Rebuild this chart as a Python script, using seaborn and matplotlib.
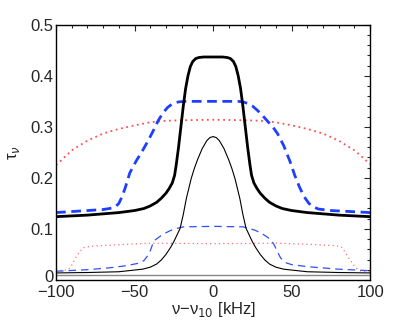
import numpy as np
import pandas as pd
import matplotlib
matplotlib.use("Agg")
import matplotlib.pyplot as plt
import matplotlib.transforms as mtransforms
import seaborn as sns
from matplotlib.ticker import MultipleLocator

sns.set_style("white")
plt.rcParams['font.family'] = ['Liberation Sans', 'DejaVu Sans']

# thick black solid (left half, mirrored)
x_bk_half = [-100, -80, -60, -50, -44, -40, -36, -33, -30, -28, -26, -24.5, -23.5, -22, -20.5, -19, -17.5, -16,
             -14.5, -13, -11, -9, -6, 0]
y_bk_half = [0.124, 0.127, 0.132, 0.136, 0.140, 0.145, 0.152, 0.160, 0.170, 0.179, 0.190, 0.205, 0.225, 0.260,
             0.300, 0.340, 0.375, 0.400, 0.418, 0.428, 0.434, 0.436, 0.437, 0.437]
x_bk = x_bk_half + [-v for v in x_bk_half[-2::-1]]
y_bk = y_bk_half + y_bk_half[-2::-1]

# thick blue dashed
x_bl = [-100, -85, -70, -64, -62, -60, -58, -56, -53, -49, -45, -41, -38, -35, -32, -29, -26, -22, -18, 0,
        16, 19, 22, 25, 28, 31, 35, 38, 41, 45, 49, 52, 55, 58, 61, 64, 67, 75, 100]
y_bl = [0.132, 0.135, 0.138, 0.141, 0.144, 0.150, 0.163, 0.180, 0.210, 0.233, 0.253, 0.275, 0.293, 0.312, 0.327,
        0.338, 0.345, 0.349, 0.350, 0.350, 0.350, 0.349, 0.346, 0.341, 0.333, 0.324, 0.310, 0.300, 0.287, 0.263,
        0.232, 0.205, 0.182, 0.163, 0.150, 0.143, 0.139, 0.136, 0.132]

# thick red dotted
x_rd = [-100, -90, -80, -70, -60, -50, -40, -30, -20, 0, 20, 30, 40, 50, 60, 70, 80, 90, 100]
y_rd = [0.225, 0.254, 0.273, 0.287, 0.296, 0.303, 0.309, 0.312, 0.313, 0.314, 0.313, 0.312, 0.309, 0.303, 0.296,
        0.287, 0.273, 0.254, 0.227]

# thin black solid (left half, mirrored)
x_bk2_half = [-100, -80, -60, -45, -40, -36, -33, -30, -27, -25, -23, -21, -19, -17, -14, -12, -10, -7, -4, -2, 0]
y_bk2_half = [0.0137, 0.0145, 0.016, 0.021, 0.025, 0.031, 0.039, 0.050, 0.064, 0.075, 0.088, 0.101, 0.128, 0.160,
              0.198, 0.218, 0.235, 0.257, 0.273, 0.279, 0.281]
x_bk2 = x_bk2_half + [-v for v in x_bk2_half[-2::-1]]
y_bk2 = y_bk2_half + y_bk2_half[-2::-1]

# thin blue dashed
x_bl2 = [-100, -80, -65, -55, -47, -44, -42, -40, -38.5, -37, -34, -31, -27, -23, -19, 0,
         19, 23, 27, 31, 34, 37, 39, 41, 43, 46, 50, 60, 80, 100]
y_bl2 = [0.017, 0.020, 0.024, 0.028, 0.033, 0.038, 0.046, 0.057, 0.070, 0.078, 0.085, 0.091, 0.097, 0.101, 0.104,
         0.105, 0.104, 0.101, 0.097, 0.091, 0.085, 0.078, 0.068, 0.055, 0.043, 0.034, 0.030, 0.026, 0.021, 0.018]

# thin red dotted
x_rd2 = [-100, -95, -91, -87, -83, -78, -60, -40, 0, 40, 60, 78, 82, 87, 91, 95, 100]
y_rd2 = [0.018, 0.018, 0.023, 0.046, 0.063, 0.066, 0.069, 0.072, 0.071, 0.072, 0.070, 0.067, 0.064, 0.040, 0.023,
         0.016, 0.016]

# grey baseline
x_gr = [-100, 100]
y_gr = [0.009, 0.009]

fig = plt.figure(figsize=(4.09, 3.27), dpi=100)
ax = fig.add_axes([0.137, 0.144, 0.768, 0.780])

sns.lineplot(x=x_gr, y=y_gr, color='#888888', lw=1.0, ax=ax)
sns.lineplot(x=x_rd, y=y_rd, color='#ff5050', lw=1.3, ax=ax, linestyle=(0, (1, 2)))
sns.lineplot(x=x_rd2, y=y_rd2, color='#ff7070', lw=0.9, ax=ax, linestyle=(0, (1, 2.5)))
sns.lineplot(x=x_bl, y=y_bl, color='#1f3fff', lw=2.0, ax=ax, linestyle=(0, (3.5, 2)))
sns.lineplot(x=x_bl2, y=y_bl2, color='#2f4fff', lw=0.9, ax=ax, linestyle=(0, (6, 4)))
sns.lineplot(x=x_bk2, y=y_bk2, color='black', lw=0.8, ax=ax)
sns.lineplot(x=x_bk, y=y_bk, color='black', lw=2.0, ax=ax)

ax.set_xlim(-100, 100)
ax.set_ylim(0, 0.5)
ax.xaxis.set_minor_locator(MultipleLocator(10))
ax.yaxis.set_minor_locator(MultipleLocator(0.02))
ax.set_xticks([-100, -50, 0, 50, 100])
ax.set_xticklabels(['\u2212100', '\u221250', '0', '50', '100'])
ax.set_yticks([0, 0.1, 0.2, 0.3, 0.4, 0.5])
ax.set_yticklabels(['0', '0.1', '0.2', '0.3', '0.4', '0.5'])
ax.tick_params(which='both', direction='in', top=True, right=True, labelsize=12, width=0.8)
ax.tick_params(axis='x', pad=4)
ax.tick_params(axis='y', pad=2)
ax.tick_params(which='major', length=4)
ax.tick_params(which='minor', length=2)
for s in ax.spines.values():
    s.set_linewidth(1.0)
    s.set_color('black')

# lift the "0" y label a little so it clears the "-100" below it
zero_lbl = ax.get_yticklabels()[0]
zero_lbl.set_transform(zero_lbl.get_transform() +
                       mtransforms.ScaledTranslation(0, 3 / 72, fig.dpi_scale_trans))

ax.set_xlabel('\u03bd\u2212\u03bd$_{10}$ [kHz]', fontsize=12, labelpad=0)
ax.set_ylabel('\u03c4$_{\u03bd}$', fontsize=12, labelpad=6)

fig.savefig('out.png', dpi=100)
